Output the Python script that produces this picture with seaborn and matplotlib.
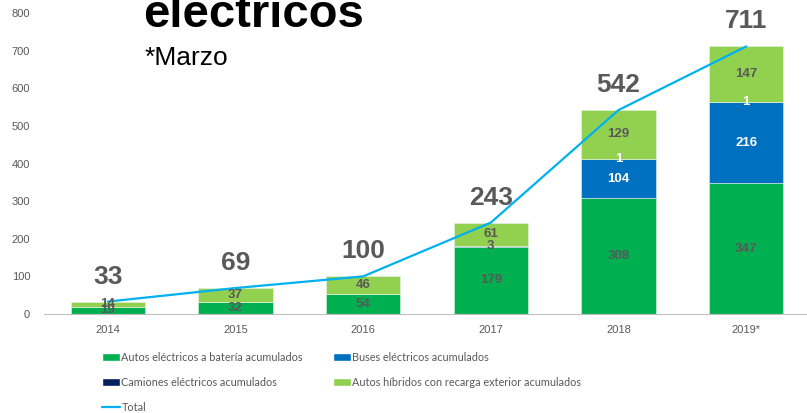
import numpy as np
import pandas as pd
import matplotlib
matplotlib.use("Agg")
import matplotlib.pyplot as plt
from matplotlib.patches import Patch
from matplotlib.lines import Line2D
import seaborn as sns

years = ["2014", "2015", "2016", "2017", "2018", "2019*"]
autos_bev = [19, 32, 54, 179, 308, 347]
buses = [0, 0, 0, 3, 104, 216]
camiones = [0, 0, 0, 0, 1, 1]
autos_phev = [14, 37, 46, 61, 129, 147]
totals = [33, 69, 100, 243, 542, 711]

series_names = [
    "Autos eléctricos a batería acumulados",
    "Buses eléctricos acumulados",
    "Camiones eléctricos acumulados",
    "Autos híbridos con recarga exterior acumulados",
]
series_vals = [autos_bev, buses, camiones, autos_phev]
colors = ["#00B050", "#0070C0", "#002060", "#92D050"]
label_colors = ["#595959", "#FFFFFF", "#FFFFFF", "#595959"]
line_color = "#00B0F0"
gray = "#595959"

sns.set_style("white")
plt.rcParams["font.family"] = ["Liberation Sans", "DejaVu Sans"]

fig = plt.figure(figsize=(8.07, 4.13), dpi=100)
W, H = 807, 413
ax = fig.add_axes([44 / W, 99 / H, 766 / W, 301 / H])

df = pd.DataFrame({"year": years})
bottom = np.zeros(len(years))
for name, vals, col, lcol in zip(series_names, series_vals, colors, label_colors):
    df["v"] = vals
    sns.barplot(data=df, x="year", y="v", color=col, width=0.58, bottom=bottom,
                edgecolor="#E6F2E6", linewidth=0.4, saturation=1, ax=ax)
    for i, v in enumerate(vals):
        if v <= 0:
            continue
        # tiny bus segment (2017) carries a gray label in the original
        c = gray if (name.startswith("Buses") and v < 10) else lcol
        ax.text(i, bottom[i] + v / 2, str(v), ha="center", va="center",
                fontsize=9.5, fontweight="bold", color=c)
    bottom = bottom + np.array(vals)

sns.lineplot(x=np.arange(len(years)), y=totals, color=line_color, linewidth=1.6, ax=ax)

for i, t in enumerate(totals):
    ax.annotate(str(t), (i, t), xytext=(0, 18), textcoords="offset points",
                ha="center", va="center", fontsize=19, fontweight="bold", color=gray)

ax.set_xlim(-0.5, 5.5)
ax.set_ylim(0, 800)
ax.set_yticks(range(0, 801, 100))
ax.set_xlabel("")
ax.set_ylabel("")
for s in ["top", "right", "left"]:
    ax.spines[s].set_visible(False)
ax.spines["bottom"].set_color("#BFBFBF")
ax.tick_params(axis="both", length=0, labelsize=8, labelcolor=gray)
ax.tick_params(axis="x", pad=8)
ax.tick_params(axis="y", pad=10)

fig.text(143 / W, 1 - 27 / H, "electricos", fontsize=34, fontweight="bold",
         color="black", va="baseline", ha="left")
fig.text(145 / W, 1 - 65 / H, "*Marzo", fontsize=19, color="black",
         va="baseline", ha="left")

leg_font = {"family": ["Lato", "DejaVu Sans"], "size": 7.8}
h_bev = Patch(facecolor=colors[0])
h_bus = Patch(facecolor=colors[1])
h_cam = Patch(facecolor=colors[2])
h_phev = Patch(facecolor=colors[3])
h_tot = Line2D([0], [0], color=line_color, linewidth=1.6)
leg_kw = dict(frameon=False, loc="upper left", prop=leg_font, labelcolor=gray,
              handlelength=1.65, handleheight=0.75, handletextpad=0.15,
              labelspacing=1.3, borderpad=0, borderaxespad=0)
leg1 = fig.legend([h_bev, h_cam, h_tot],
                  [series_names[0], series_names[2], "Total"],
                  bbox_to_anchor=(102 / W, 1 - 352 / H), **leg_kw)
leg2 = fig.legend([h_bus, h_phev], [series_names[1], series_names[3]],
                  bbox_to_anchor=(333 / W, 1 - 352 / H), **leg_kw)

fig.savefig("out.png", dpi=100)
